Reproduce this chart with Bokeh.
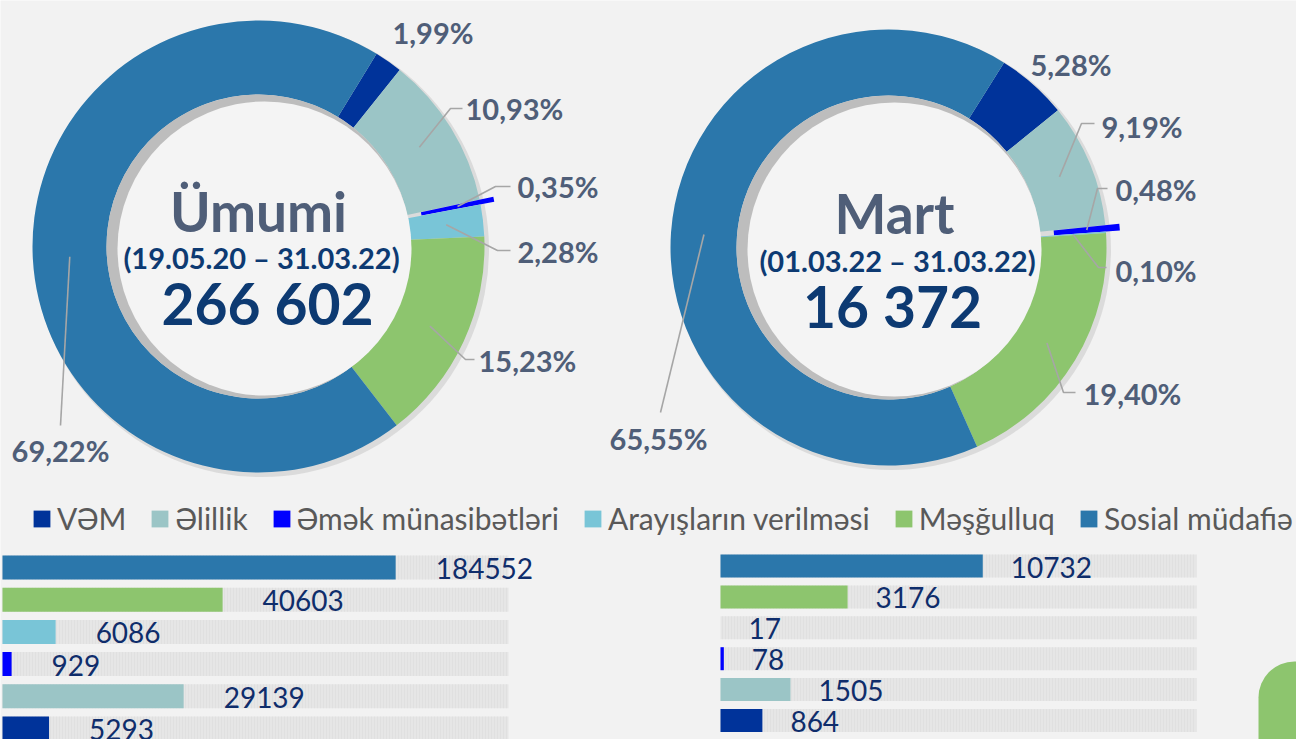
import math
from bokeh.plotting import figure
from bokeh.models import Range1d, Legend, LegendItem, BoxAnnotation, ColumnDataSource
from bokeh.core.properties import value
from bokeh.embed import file_html
from bokeh.resources import INLINE

# ---------------- data ----------------
categories = ["VƏM", "Əlillik", "Əmək münasibətləri", "Arayışların verilməsi",
              "Məşğulluq", "Sosial müdafiə"]
cat_colors = ["#00339a", "#9bc5c6", "#0000ff", "#79c5d7", "#8dc56e", "#2b77ab"]

umumi_title = "Ümumi"
umumi_period = "(19.05.20 – 31.03.22)"
umumi_total = "266 602"
umumi_pct = [1.99, 10.93, 0.35, 2.28, 15.23, 69.22]

mart_title = "Mart"
mart_period = "(01.03.22 – 31.03.22)"
mart_total = "16 372"
mart_pct = [5.28, 9.19, 0.48, 0.10, 19.40, 65.55]

bar_order = ["Sosial müdafiə", "Məşğulluq", "Arayışların verilməsi",
             "Əmək münasibətləri", "Əlillik", "VƏM"]
umumi_counts = [184552, 40603, 6086, 929, 29139, 5293]
mart_counts = [10732, 3176, 17, 78, 1505, 864]
# bar length as drawn in the source graphic, as a share of the grey track
umumi_drawn = [0.777, 0.435, 0.105, 0.018, 0.358, 0.092]
mart_drawn = [0.551, 0.267, 0.0, 0.007, 0.147, 0.088]

# ---------------- styles / layout ----------------
BG = "#f2f2f2"
FONT = value("Lato")
LABEL_COLOR = "#4f5e78"
NAVY = "#0d3a72"
LEADER = "#a6a6a6"
W, H = 1296, 739

# one canvas; main ranges are page pixels (y pointing up, i.e. y = -page_y)
p = figure(width=W, height=H, x_range=Range1d(0, W), y_range=Range1d(-H, 0),
           x_axis_type=None, y_axis_type=None, toolbar_location=None,
           output_backend="svg", min_border=0,
           background_fill_color=BG, border_fill_color=BG, outline_line_color=None)


def pct_text(v):
    return ("%.2f" % v).replace(".", ",") + "%"


def donut(pct, title, period, total, g):
    cx, cy = g["center"][0], -g["center"][1]
    r_out, r_in = g["r_out"], g["r_in"]
    # soft outer shadow
    p.circle(x=[cx + 3], y=[cy - 3], radius=r_out + 1.5, fill_color="#c9c9c9",
             fill_alpha=0.55, line_color=None)

    starts, ends, mids, xs, ys = [], [], [], [], []
    cum = 0.0
    for i, v in enumerate(pct):
        a0 = math.radians(90 - g["first_angle"] - cum * 3.6)
        a1 = math.radians(90 - g["first_angle"] - (cum + v) * 3.6)
        m = (a0 + a1) / 2
        ex = g["explode"] if categories[i] == "Əmək münasibətləri" else 0
        starts.append(a0)
        ends.append(a1)
        mids.append(m)
        xs.append(cx + ex * math.cos(m))
        ys.append(cy + ex * math.sin(m))
        cum += v
    src = ColumnDataSource(dict(x=xs, y=ys, s=starts, e=ends, color=cat_colors))
    p.annular_wedge(x="x", y="y", inner_radius=r_in, outer_radius=r_out,
                    start_angle="s", end_angle="e", direction="clock",
                    fill_color="color", line_color=None, source=src)

    # inner hole with its shadow
    p.circle(x=[cx], y=[cy], radius=r_in, fill_color="#bdbdbd", line_color=None)
    p.circle(x=[cx + 6], y=[cy - 2], radius=r_in - 5, fill_color="#f4f4f4",
             line_color=None)

    # centre texts
    for key, txt, size, col in (("title_xy", title, "55px", LABEL_COLOR),
                                ("period_xy", period, "29px", NAVY),
                                ("total_xy", total, "57px", NAVY)):
        tx, ty = g[key]
        p.text(x=[cx + tx], y=[cy + ty], text=[txt], text_font=FONT,
               text_font_style="bold", text_font_size=size, text_color=col,
               text_align="center", text_baseline="middle")

    # leader lines + percentage labels
    rmid = (r_in + r_out) / 2
    lx, ly = [], []
    tx_l, ty_l, tt_l, ta_l = [], [], [], []
    for i, v in enumerate(pct):
        lay = g["labels"][i]
        if lay["end"] is not None:
            pts = [(xs[i] + rmid * math.cos(mids[i]), ys[i] + rmid * math.sin(mids[i]))]
            if lay["elbow"] is not None:
                pts.append((cx + lay["elbow"][0], cy + lay["elbow"][1]))
            pts.append((cx + lay["end"][0], cy + lay["end"][1]))
            lx.append([q[0] for q in pts])
            ly.append([q[1] for q in pts])
        tx_l.append(cx + lay["text"][0])
        ty_l.append(cy + lay["text"][1])
        tt_l.append(pct_text(v))
        ta_l.append(lay["align"])
    p.multi_line(xs=lx, ys=ly, line_color=LEADER, line_width=1.6)
    p.text(x=tx_l, y=ty_l, text=tt_l, text_align=ta_l, text_baseline="middle",
           text_font=FONT, text_font_style="bold", text_font_size="29px",
           text_color=LABEL_COLOR)


def L(text, elbow=None, end=None, align="left"):
    return dict(text=text, elbow=elbow, end=end, align=align)


g_umumi = dict(center=(258, 246), r_out=226, r_in=152, explode=14, first_angle=31.5,
               title_xy=(0, 36), period_xy=(3, -11), total_xy=(9, -56),
               labels=[L((134, 214)),
                       L((207, 138), (192, 138), (204, 138)),
                       L((259, 60), (237, 60), (252, 60)),
                       L((259, -5), (239, -4), (252, -4)),
                       L((220, -114), (207, -113), (216, -113)),
                       L((-198, -204), None, (-198, -179), "center")])

g_mart = dict(center=(888, 247), r_out=218, r_in=152, explode=14, first_angle=32,
              title_xy=(6, 35), period_xy=(9, -13), total_xy=(4, -58),
              labels=[L((142, 183)),
                      L((213, 121), (193, 124), (206, 124)),
                      L((227, 58), (209, 59), (219, 59)),
                      L((227, -23), (210, -20), (218, -20)),
                      L((195, -146), (175, -145), (187, -145)),
                      L((-230, -191), None, (-228, -165), "center")])

donut(umumi_pct, umumi_title, umumi_period, umumi_total, g_umumi)
donut(mart_pct, mart_title, mart_period, mart_total, g_mart)

# ---------------- legend ----------------
items = []
for name, col in zip(categories, cat_colors):
    # swatch renderer kept outside the visible range; only its legend glyph shows
    r = p.rect(x=[-500], y=[500], width=1, height=1, fill_color=col, line_color=None)
    items.append(LegendItem(label=name, renderers=[r]))
legend = Legend(items=items, orientation="horizontal", location=(31, 203),
                glyph_width=21, glyph_height=21, label_standoff=5, spacing=23,
                padding=0, margin=0, background_fill_alpha=0, border_line_color=None,
                label_text_font="Lato", label_text_font_size="30px",
                label_text_color="#595959")
p.add_layout(legend)


# ---------------- bars (own scales per block) ----------------
def bars(counts, drawn, g, name):
    scale = g["track_px"]
    p.extra_x_ranges[name + "x"] = Range1d(-g["track_left"] / scale,
                                           (W - g["track_left"]) / scale)
    p.extra_y_ranges[name + "y"] = Range1d((H - g["row0"]) / g["pitch"],
                                           -g["row0"] / g["pitch"])
    src = ColumnDataSource(dict(
        row=list(range(len(counts))), drawn=drawn,
        count=[str(c) for c in counts],
        color=[cat_colors[categories.index(n)] for n in bar_order]))
    hh = g["bar_px"] / g["pitch"]
    kw = dict(x_range_name=name + "x", y_range_name=name + "y", source=src)
    p.hbar(y="row", left=0, right=1, height=hh, fill_color="#e6e6e6",
           line_color=None, hatch_pattern="vertical_line", hatch_color="#dadada",
           hatch_alpha=0.5, hatch_scale=3, hatch_weight=1, **kw)
    p.hbar(y="row", left=0, right="drawn", height=hh, fill_color="color",
           line_color=None, **kw)
    p.text(x="drawn", y="row", text="count", x_offset=g["label_gap"], y_offset=1,
           text_baseline="middle", text_align="left", text_font=FONT,
           text_font_size="28px", text_color="#0f2d6b", **kw)


bars(umumi_counts, umumi_drawn,
     dict(track_left=2, track_px=506, row0=567, pitch=32.2, bar_px=24, label_gap=40),
     "umumi")
bars(mart_counts, mart_drawn,
     dict(track_left=720, track_px=476, row0=565.5, pitch=30.9, bar_px=23, label_gap=28),
     "mart")

# decorative green tab at the lower right corner
p.add_layout(BoxAnnotation(left=1258, top=-661, fill_color="#8dc56e", fill_alpha=1.0,
                           line_color=None, border_radius=(36, 0, 0, 0),
                           level="underlay"))

open("out.html", "w").write(file_html(p, INLINE, title="Müraciətlər"))
